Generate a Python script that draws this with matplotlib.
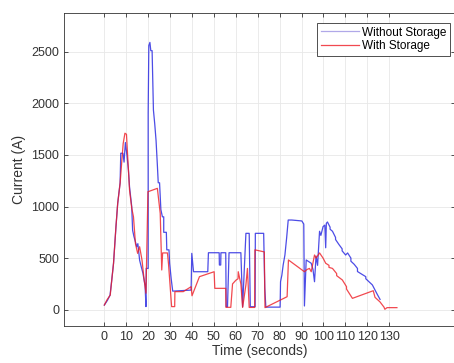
import numpy as np
import matplotlib
matplotlib.use('Agg')
import matplotlib.pyplot as plt

# current profiles (time in s, current in A)
t_without = [0, 1.4, 2.6, 3.4, 4.2, 5.3, 6.1, 7.2, 7.5, 8.5, 9.0, 9.6, 10.3, 11.0, 11.5,
             12.5, 12.9, 13.5, 14.8, 15.3, 16.1, 16.8, 17.6, 18.6, 19.0, 19.1, 20.0, 20.0,
             20.3, 20.8, 21.2, 21.8, 22.4, 23.0, 23.6, 24.2, 24.6, 25.2, 25.8, 26.5, 27.1,
             27.1, 28.3, 28.5, 29.5, 29.8, 30.5, 31.2, 39.6, 39.9, 40.7, 47.2, 47.5, 52.4,
             52.5, 53.1, 53.2, 55.4, 55.6, 56.2, 56.9, 62.3, 63.1, 64.6, 66.1, 66.6, 68.8,
             68.9, 72.7, 73.2, 73.7, 80.2, 80.4, 81.0, 81.6, 82.4, 83.2, 83.9, 85.5, 90.1,
             91.0, 91.3, 92.1, 94.4, 95.2, 95.9, 96.6, 97.3, 98.2, 98.8, 99.8, 100.6, 101.0,
             101.3, 101.8, 103.0, 103.0, 104.1, 105.5, 105.5, 107.1, 108.5, 108.5, 110.1,
             111.0, 112.5, 112.5, 114.0, 115.5, 115.5, 117.0, 119.3, 119.3, 122.3, 124.5,
             125.8]
i_without = [45, 90, 140, 290, 450, 800, 1030, 1230, 1516, 1516, 1430, 1620, 1500, 1353, 1190,
             1000, 770, 710, 610, 640, 480, 420, 355, 230, 30, 400, 400, 1900,
             2560, 2590, 2510, 2510, 1935, 1800, 1640, 1400, 1230, 1230, 970, 900, 900,
             750, 750, 580, 580, 450, 300, 180, 190, 546, 368, 368, 552, 552,
             433, 433, 552, 552, 29, 29, 552, 552, 29, 740, 740, 29, 29,
             740, 740, 210, 25, 25, 271, 335, 433, 530, 700, 869, 869, 860,
             830, 36, 482, 450, 390, 271, 520, 430, 760, 720, 805, 820, 600,
             837, 850, 800, 780, 760, 700, 680, 630, 590, 570, 530,
             550, 500, 470, 440, 400, 370, 350, 320, 300, 240, 150,
             100]

t_with = [0, 1.2, 2.7, 3.4, 4.2, 5.3, 6.1, 7.2, 7.9, 8.6, 9.4, 10.1, 11.0, 11.5, 12.5, 13.3,
          14.2, 15.2, 16.1, 17.2, 18.0, 19.0, 19.9, 24.2, 25.5, 26.2, 26.6, 28.8, 29.3, 30.7,
          32.1, 32.2, 36.0, 39.6, 40.0, 43.4, 50.1, 50.4, 55.4, 55.5, 57.7, 58.5, 60.0, 61.0,
          61.1, 62.3, 63.1, 64.6, 65.3, 66.1, 68.6, 68.7, 73.0, 73.3, 83.4, 84.0, 91.3, 92.5,
          93.6, 94.4, 95.9, 96.6, 98.2, 99.8, 101.0, 102.5, 102.5, 104.1, 106.0, 106.0, 108.6,
          110.5, 110.5, 113.2, 122.7, 123.5, 125.8, 127.6, 128.0, 129.0, 133.5]
i_with = [45, 95, 142, 288, 450, 804, 1030, 1225, 1420, 1610, 1710, 1700, 1353, 1160, 985, 900,
          640, 546, 610, 480, 320, 160, 1143, 1176, 934, 385, 550, 550, 440, 30,
          30, 175, 175, 223, 135, 320, 368, 207, 207, 23, 23, 250, 285, 300,
          368, 250, 22, 240, 400, 22, 22, 580, 560, 20, 126, 482, 368, 390,
          400, 368, 530, 500, 550, 500, 450, 430, 410, 400, 350, 330, 288,
          223, 200, 110, 184, 120, 75, 25, 4, 20, 20]

x_ticks = np.arange(0, 131, 10)
y_ticks = np.arange(0, 2501, 500)

plt.rcParams['font.family'] = ['Liberation Sans', 'DejaVu Sans']

fig = plt.figure(figsize=(4.54, 3.63), dpi=100)
ax = fig.add_axes([64/454, 37.3/363, 391/454, 312.7/363])

ax.plot(t_without, i_without, color='#2020e0', lw=0.9, alpha=0.8, label='Without Storage')
ax.plot(t_with, i_with, color='#ee1c24', lw=0.9, alpha=0.8, label='With Storage')

ax.set_xlim(-18.4, 160)
ax.set_ylim(-155, 2875)
ax.set_xticks(x_ticks)
ax.set_yticks(y_ticks)
ax.grid(True, color='#e8e8e8', lw=0.6)
ax.set_axisbelow(True)
ax.tick_params(direction='in', length=3, width=0.6, labelsize=9, colors='#333333',
               top=True, right=True)
for s in ax.spines.values():
    s.set_color('#333333')
    s.set_linewidth(0.6)

ax.set_xlabel('Time (seconds)', fontsize=10, color='#333333', labelpad=1)
ax.set_ylabel('Current (A)', fontsize=10, color='#333333', labelpad=4)

leg = ax.legend(loc='upper right', bbox_to_anchor=(450/454, 1 - 23/363),
                bbox_transform=fig.transFigure, fontsize=8.5, fancybox=False,
                framealpha=1, edgecolor='#333333', handlelength=3.2,
                handletextpad=0.3, borderpad=0.3, labelspacing=0.15, borderaxespad=0)
leg.get_frame().set_linewidth(0.6)
leg.legend_handles[0].set_color('#b0a8e8')
leg.legend_handles[0].set_alpha(1)

fig.savefig('out.png', dpi=100)
